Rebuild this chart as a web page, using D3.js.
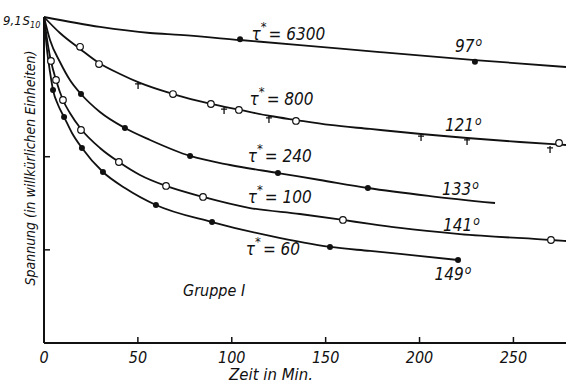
<!DOCTYPE html>
<html>
<head>
<meta charset="utf-8">
<script src="https://cdn.jsdelivr.net/npm/d3@7"></script>
<style>
    body { margin: 0; background: #fff; }
    svg text { font-family: "Liberation Sans Narrow", "DejaVu Sans Condensed", sans-serif; font-style: italic; fill: #111; }
</style>
</head>
<body>
<div id="canvas"></div>
<script>
// data (x = Zeit in Min., y = Spannung, arbitrary units)
const xTicks = [0, 50, 100, 150, 200, 250];
const yTicks = [1, 2];

const tau6300 = [[0,3.50],[29.8,3.393],[56.5,3.328],[72.4,3.307],[104.4,3.253],[136.3,3.199],[178.9,3.124],[229.5,3.038],[278,2.963]];
const tau800 = [[0,3.50],[8.5,3.328],[19.2,3.157],[29.3,3.006],[40.5,2.888],[51.1,2.792],[68.7,2.673],[88.9,2.566],[104.4,2.502],[120.4,2.437],[134.2,2.394],[152.3,2.341],[173.6,2.298],[200.8,2.244],[225.3,2.201],[253.5,2.158],[278,2.126]];
const tau240 = [[0,3.50],[3.2,3.253],[8.5,3.017],[13.8,2.824],[19.7,2.673],[29.8,2.480],[43.1,2.308],[56.5,2.180],[77.8,2.008],[99.1,1.911],[124.6,1.825],[147.0,1.750],[172.5,1.664],[205.6,1.578],[240.2,1.503]];
const tau100 = [[0,3.50],[2.1,3.199],[3.7,3.028],[6.4,2.824],[10.1,2.609],[13.8,2.469],[19.7,2.298],[29.8,2.094],[39.9,1.943],[51.1,1.804],[65.0,1.686],[84.7,1.568],[109.7,1.449],[136.3,1.385],[159.2,1.321],[173.6,1.278],[189.6,1.235],[221.5,1.170],[270.0,1.106],[278,1.095]];
const tau60 = [[0,3.50],[1.6,3.146],[3.2,2.910],[4.8,2.716],[7.5,2.555],[10.7,2.426],[14.9,2.255],[20.2,2.094],[31.4,1.836],[43.1,1.664],[59.6,1.482],[89.5,1.299],[120.4,1.149],[152.3,1.031],[173.6,0.988],[189.6,0.956],[220.5,0.891]];

// measured points
const filledPts = [[104.4,3.26],[229.5,3.02],
    [19.7,2.673],[43.1,2.308],[77.8,2.008],[124.6,1.825],[172.5,1.664],
    [4.8,2.716],[10.7,2.426],[20.2,2.094],[31.4,1.836],[59.6,1.482],[89.5,1.299],[152.3,1.031],[220.5,0.891]];
const openPts = [[19.2,3.18],[29.3,2.995],[68.7,2.673],[88.9,2.566],[103.8,2.502],[134.2,2.384],[274.3,2.147],
    [3.7,3.028],[6.4,2.824],[10.1,2.609],[19.7,2.287],[39.9,1.943],[65.0,1.686],[84.7,1.568],[159.2,1.321],[270.0,1.106]];
const plusPts = [[50.1,2.781],[95.9,2.512],[119.8,2.416],[200.8,2.222],[225.3,2.18],[269.5,2.094]];

const curveLabels = [
    {tau: "6300", deg: "97", at: [110.5, 3.25], degAt: [218.9, 3.12]},
    {tau: "800", deg: "121", at: [109.5, 2.55], degAt: [213.5, 2.28]},
    {tau: "240", deg: "133", at: [108.5, 1.945], degAt: [212, 1.59]},
    {tau: "100", deg: "141", at: [108.5, 1.50], degAt: [212.5, 1.20]},
    {tau: "60", deg: "149", at: [107.5, 0.945], degAt: [208, 0.68]}
];

const width = 566;
const height = 384;

const x = d3.scaleLinear().domain([0, 278]).range([44, 566]);
const y = d3.scaleLinear().domain([0, 3.5]).range([343, 17]);

const svg = d3.select("#canvas")
    .append("svg")
    .attr("width", width)
    .attr("height", height);

// axes
svg.append("line")
    .attr("x1", x(0)).attr("x2", x(278))
    .attr("y1", y(0)).attr("y2", y(0))
    .attr("stroke", "#111").attr("stroke-width", 2);
svg.append("line")
    .attr("x1", x(0)).attr("x2", x(0))
    .attr("y1", y(0)).attr("y2", y(3.5))
    .attr("stroke", "#111").attr("stroke-width", 2);

svg.selectAll(".xtick")
    .data(xTicks.slice(1))
    .enter()
    .append("line")
    .attr("class", "xtick")
    .attr("x1", d => x(d)).attr("x2", d => x(d))
    .attr("y1", y(0)).attr("y2", y(0) - 6)
    .attr("stroke", "#111").attr("stroke-width", 1.5);

svg.selectAll(".ytick")
    .data(yTicks)
    .enter()
    .append("line")
    .attr("class", "ytick")
    .attr("x1", x(0)).attr("x2", x(0) + 6)
    .attr("y1", d => y(d)).attr("y2", d => y(d))
    .attr("stroke", "#111").attr("stroke-width", 1.5);

svg.selectAll(".xlabel")
    .data(xTicks)
    .enter()
    .append("text")
    .attr("class", "xlabel")
    .attr("x", d => x(d))
    .attr("y", 363)
    .attr("text-anchor", "middle")
    .style("font-size", "16px")
    .text(d => d);

svg.append("text")
    .attr("x", 229).attr("y", 380)
    .attr("textLength", 84)
    .attr("lengthAdjust", "spacingAndGlyphs")
    .style("font-size", "16px")
    .text("Zeit in Min.");

svg.append("text")
    .attr("transform", "translate(35,168) rotate(-90)")
    .attr("text-anchor", "middle")
    .attr("textLength", 235)
    .attr("lengthAdjust", "spacingAndGlyphs")
    .style("font-size", "14px")
    .text("Spannung (in willkürlichen Einheiten)");

// start value label
const startLbl = svg.append("text")
    .attr("x", 3).attr("y", 25)
    .style("font-size", "13px");
startLbl.append("tspan").text("9,1");
startLbl.append("tspan").attr("dx", 1).text("S");
startLbl.append("tspan").attr("dy", 3).style("font-size", "9px").text("10");

// curves
const line = d3.line()
    .x(d => x(d[0]))
    .y(d => y(d[1]))
    .curve(d3.curveMonotoneX);

svg.selectAll(".curve")
    .data([tau6300, tau800, tau240, tau100, tau60])
    .enter()
    .append("path")
    .attr("class", "curve")
    .attr("d", line)
    .attr("fill", "none")
    .attr("stroke", "#111")
    .attr("stroke-width", 1.8);

// markers
svg.selectAll(".filled")
    .data(filledPts)
    .enter()
    .append("circle")
    .attr("cx", d => x(d[0])).attr("cy", d => y(d[1]))
    .attr("r", 3)
    .attr("fill", "#111");

svg.selectAll(".open")
    .data(openPts)
    .enter()
    .append("circle")
    .attr("cx", d => x(d[0])).attr("cy", d => y(d[1]))
    .attr("r", 3.3)
    .attr("fill", "#fff")
    .attr("stroke", "#111")
    .attr("stroke-width", 1.2);

svg.selectAll(".plus")
    .data(plusPts)
    .enter()
    .append("path")
    .attr("d", d => {
        const cx = x(d[0]), cy = y(d[1]);
        return `M${cx - 3},${cy}H${cx + 3}M${cx},${cy - 2}V${cy + 5}`;
    })
    .attr("stroke", "#111")
    .attr("stroke-width", 1.3);

// curve labels: tau with asterisk raised, then value
curveLabels.forEach(c => {
    const t = svg.append("text")
        .attr("x", x(c.at[0])).attr("y", y(c.at[1]))
        .style("font-size", "17px");
    t.append("tspan").text("τ");
    t.append("tspan").attr("dx", 0).attr("dy", -9).style("font-size", "13px").text("*");
    t.append("tspan").attr("dx", 2).attr("dy", 9).text("= " + c.tau);

    const dg = svg.append("text")
        .attr("x", x(c.degAt[0])).attr("y", y(c.degAt[1]))
        .style("font-size", "17px");
    dg.append("tspan").text(c.deg);
    dg.append("tspan").attr("dx", 1).attr("dy", -6).style("font-size", "12px").text("o");
});

svg.append("text")
    .attr("x", 183).attr("y", 296)
    .style("font-size", "16px")
    .text("Gruppe I");
</script>
</body>
</html>
